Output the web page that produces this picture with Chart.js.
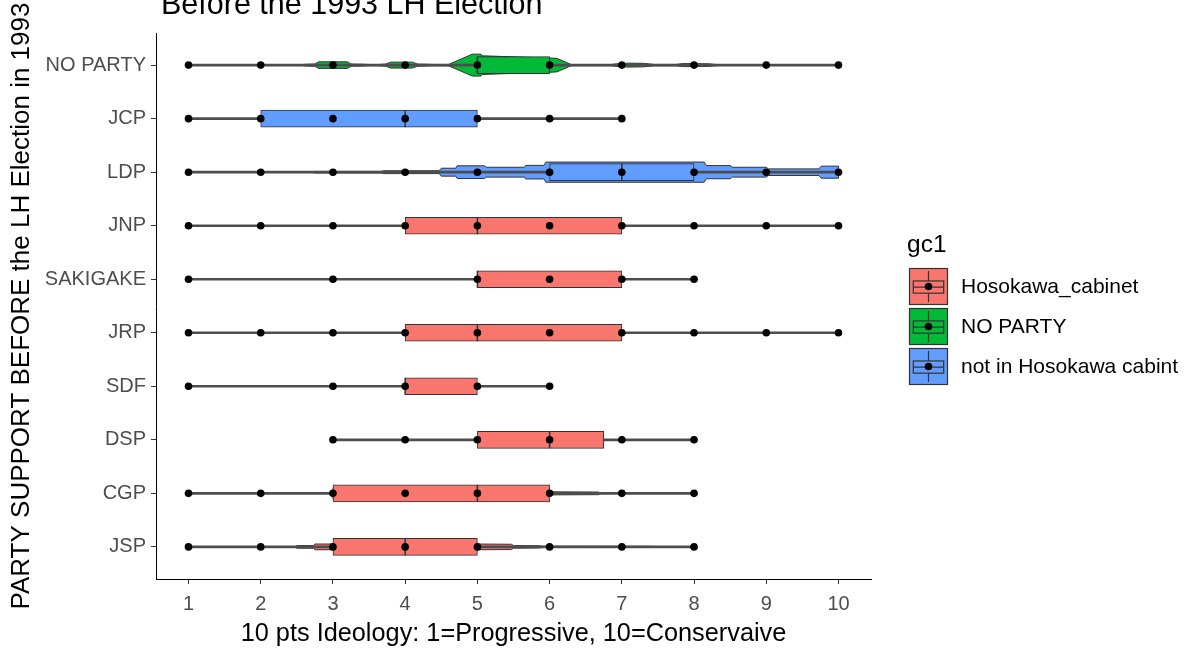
<!DOCTYPE html>
<html>
<head>
<meta charset="utf-8">
<title>Party support and ideology</title>
<script src="https://cdn.jsdelivr.net/npm/chart.js@4.4.1/dist/chart.umd.min.js"></script>
<style>
  html, body { margin: 0; padding: 0; background: #ffffff; }
  #wrap { width: 1195px; height: 650px; }
</style>
</head>
<body>
<div id="wrap"><canvas id="ideologyChart" width="1195" height="650"></canvas></div>
<script>
    // parties, listed top to bottom
    var parties = ['NO PARTY', 'JCP', 'LDP', 'JNP', 'SAKIGAKE', 'JRP', 'SDF', 'DSP', 'CGP', 'JSP'];
    var partyGroup = [1, 2, 2, 0, 0, 0, 0, 0, 0, 0];

    var groupNames = ['Hosokawa_cabinet', 'NO PARTY', 'not in Hosokawa cabint'];
    var groupColors = ['#F8766D', '#00BA38', '#619CFF'];

    var xTicks = [1, 2, 3, 4, 5, 6, 7, 8, 9, 10];

    // box stats per party
    var lowerQuartile = [5, 2, 6, 4, 5, 4, 4, 5, 3, 3];
    var medianScore   = [5, 4, 7, 5, 5, 5, 4, 6, 5, 4];
    var upperQuartile = [6, 5, 8, 7, 7, 7, 5, 6.75, 6, 5];

    // answered scores per party
    var responses = [
        [1, 2, 3, 4, 5, 6, 7, 8, 9, 10],
        [1, 2, 3, 4, 5, 6, 7],
        [1, 2, 3, 4, 5, 6, 7, 8, 9, 10],
        [1, 2, 3, 4, 5, 6, 7, 8, 9, 10],
        [1, 3, 5, 6, 7, 8],
        [1, 2, 3, 4, 5, 6, 7, 8, 9, 10],
        [1, 3, 4, 5, 6],
        [3, 4, 5, 6, 7, 8],
        [1, 2, 3, 4, 5, 6, 7, 8],
        [1, 2, 3, 4, 5, 6, 7, 8]
    ];

    // violin outlines: [score, relative density]
    var violinNoParty = [[2.55, 0], [2.62, 0.08], [2.75, 0.1], [2.8, 0.3], [3.2, 0.3], [3.25, 0.1], [3.42, 0.08],
        [3.5, 0.05], [3.62, 0.05], [3.73, 0.1], [3.8, 0.27], [4.1, 0.27], [4.17, 0.1], [4.4, 0.06], [4.6, 0.06],
        [4.93, 1.0], [5.05, 1.0], [5.06, 0.85], [6.0, 0.65], [6.1, 0.62], [6.3, 0.05], [6.85, 0.05],
        [6.9, 0.1], [7.1, 0.18], [7.3, 0.16], [7.45, 0.06], [7.75, 0.06], [7.85, 0.14], [8.2, 0.12], [8.4, 0]];
    var violinLdp = [[2.7, 0], [2.75, 0.07], [3.67, 0.07], [3.7, 0.13], [4.47, 0.13], [4.5, 0.36], [4.7, 0.36],
        [4.72, 0.58], [5.1, 0.58], [5.12, 0.45], [5.65, 0.45], [5.67, 0.62], [5.92, 0.62], [5.95, 0.92],
        [8.14, 0.92], [8.17, 0.6], [8.5, 0.6], [8.53, 0.45], [9.0, 0.45], [9.03, 0.3], [9.73, 0.3],
        [9.76, 0.55], [10.0, 0.55]];
    var violinCgp = [[3.0, 0.5], [5.98, 0.5], [6.0, 0.14], [6.68, 0.12], [6.7, 0]];
    var violinJsp = [[2.48, 0], [2.5, 0.12], [2.73, 0.12], [2.75, 0.26], [3.0, 0.26], [3.02, 0.6], [4.98, 0.6],
        [5.0, 0.26], [5.47, 0.24], [5.5, 0.12], [5.86, 0.1], [5.9, 0.06], [7.43, 0.05], [7.45, 0]];
    var violins = [violinNoParty, null, violinLdp, null, null, null, null, null, violinCgp, violinJsp];

    var FONT = "'Liberation Sans', Arial, sans-serif";
    var VIOLIN_HALF = 0.205;   // peak half width, in category units
    var OUTLINE = '#333333';

    var rangeData = parties.map(function (p, i) {
        return { y: i, x: [Math.min.apply(null, responses[i]), Math.max.apply(null, responses[i])] };
    });
    var boxData = parties.map(function (p, i) {
        return { y: i, x: [lowerQuartile[i], upperQuartile[i]] };
    });
    var boxColors = partyGroup.map(function (g) { return groupColors[g]; });
    var pointData = [];
    responses.forEach(function (list, i) {
        list.forEach(function (v) { pointData.push({ x: v, y: i }); });
    });

    function drawKey(ctx, x, y, w, h, color) {
        ctx.save();
        ctx.fillStyle = color;
        ctx.strokeStyle = OUTLINE;
        ctx.lineWidth = 1.2;
        ctx.fillRect(x, y, w, h);
        ctx.strokeRect(x + 0.5, y + 0.5, w - 1, h - 1);
        var bx = x + w * 0.11, bw = w * 0.78, by = y + h * 0.35, bh = h * 0.33;
        ctx.strokeRect(bx, by, bw, bh);
        ctx.beginPath();
        ctx.moveTo(x + w / 2, y + h * 0.08); ctx.lineTo(x + w / 2, by);
        ctx.moveTo(x + w / 2, by + bh); ctx.lineTo(x + w / 2, y + h * 0.92);
        ctx.moveTo(bx, by + bh / 2); ctx.lineTo(bx + bw, by + bh / 2);
        ctx.stroke();
        ctx.fillStyle = '#000';
        ctx.beginPath();
        ctx.arc(x + w / 2, y + h / 2, 3.8, 0, Math.PI * 2);
        ctx.fill();
        ctx.restore();
    }

    var boxplotExtras = {
        id: 'boxplotExtras',
        beforeDatasetsDraw: function (chart) {
            var ctx = chart.ctx, xs = chart.scales.x, ys = chart.scales.y;
            var unit = Math.abs(ys.getPixelForValue(1) - ys.getPixelForValue(0));
            ctx.save();
            ctx.beginPath();
            ctx.rect(chart.chartArea.left, chart.chartArea.top, chart.chartArea.width, chart.chartArea.height);
            ctx.clip();
            violins.forEach(function (shape, i) {
                if (!shape) return;
                var cy = ys.getPixelForValue(i);
                ctx.beginPath();
                shape.forEach(function (pt, k) {
                    var px = xs.getPixelForValue(pt[0]), hh = pt[1] * VIOLIN_HALF * unit;
                    if (k === 0) ctx.moveTo(px, cy - hh); else ctx.lineTo(px, cy - hh);
                });
                for (var k = shape.length - 1; k >= 0; k--) {
                    ctx.lineTo(xs.getPixelForValue(shape[k][0]), cy + shape[k][1] * VIOLIN_HALF * unit);
                }
                ctx.closePath();
                ctx.fillStyle = groupColors[partyGroup[i]];
                ctx.fill();
                ctx.strokeStyle = OUTLINE;
                ctx.lineWidth = 1;
                ctx.stroke();
            });
            ctx.restore();
        },
        afterDatasetDraw: function (chart, args) {
            if (args.index !== 1) return;
            var ctx = chart.ctx, xs = chart.scales.x;
            var bars = chart.getDatasetMeta(1).data;
            ctx.save();
            ctx.strokeStyle = OUTLINE;
            ctx.lineWidth = 1.5;
            bars.forEach(function (bar, i) {
                var mx = xs.getPixelForValue(medianScore[i]);
                ctx.beginPath();
                ctx.moveTo(mx, bar.y - bar.height / 2);
                ctx.lineTo(mx, bar.y + bar.height / 2);
                ctx.stroke();
            });
            ctx.restore();
        },
        afterDraw: function (chart) {
            var ctx = chart.ctx;
            ctx.save();
            // plot title, partly above the top edge
            ctx.fillStyle = '#000';
            ctx.font = '30.5px ' + FONT;
            ctx.textAlign = 'left';
            ctx.textBaseline = 'alphabetic';
            ctx.fillText('Before the 1993 LH Election', 161, 14);

            // legend
            ctx.font = '24.5px ' + FONT;
            ctx.fillText('gc1', 907, 252);
            ctx.font = '21px ' + FONT;
            ctx.textBaseline = 'middle';
            groupNames.forEach(function (name, g) {
                var top = 268 + g * 40;
                drawKey(ctx, 909, top, 39, 37, groupColors[g]);
                ctx.fillStyle = '#000';
                ctx.fillText(name, 961, top + 19);
            });
            ctx.restore();
        }
    };

    var ctx = document.getElementById('ideologyChart').getContext('2d');
    var ideologyChart = new Chart(ctx, {
        type: 'bar',
        data: {
            datasets: [
                {
                    type: 'bar',
                    label: 'range',
                    data: rangeData,
                    indexAxis: 'y',
                    grouped: false,
                    barThickness: 2,
                    backgroundColor: '#4d4d4d',
                    borderWidth: 0,
                    order: 3
                },
                {
                    type: 'bar',
                    label: 'box',
                    data: boxData,
                    indexAxis: 'y',
                    grouped: false,
                    barThickness: 17,
                    backgroundColor: boxColors,
                    borderColor: OUTLINE,
                    borderWidth: 1,
                    borderSkipped: false,
                    order: 2
                },
                {
                    type: 'scatter',
                    label: 'responses',
                    data: pointData,
                    pointRadius: 3.8,
                    pointBackgroundColor: '#000',
                    pointBorderWidth: 0,
                    showLine: false,
                    order: 0
                }
            ]
        },
        options: {
            indexAxis: 'y',
            responsive: false,
            animation: false,
            layout: { padding: { top: 33, right: 324, bottom: 0, left: 0 } },
            plugins: {
                legend: { display: false },
                tooltip: { enabled: false },
                title: { display: false }
            },
            scales: {
                x: {
                    type: 'linear',
                    min: 0.55,
                    max: 10.45,
                    offset: false,
                    afterBuildTicks: function (scale) {
                        scale.ticks = xTicks.map(function (v) { return { value: v }; });
                    },
                    afterFit: function (scale) { scale.height = 71; },
                    ticks: { color: '#4D4D4D', font: { family: FONT, size: 20 }, padding: 8, autoSkip: false },
                    grid: { offset: false, drawOnChartArea: false, drawTicks: true, tickLength: 5, tickColor: '#333', tickWidth: 1 },
                    border: { display: true, color: '#000', width: 1 },
                    title: {
                        display: true,
                        text: '10 pts Ideology: 1=Progressive, 10=Conservaive',
                        color: '#000',
                        font: { family: FONT, size: 25.3, lineHeight: 1.2 },
                        padding: { top: 0, bottom: 1 }
                    }
                },
                y: {
                    type: 'linear',
                    reverse: true,
                    min: -0.6,
                    max: 9.6,
                    offset: false,
                    afterBuildTicks: function (scale) {
                        scale.ticks = parties.map(function (p, i) { return { value: i }; });
                    },
                    afterFit: function (scale) { scale.width = 156; },
                    ticks: {
                        color: '#4D4D4D',
                        font: { family: FONT, size: 20 },
                        padding: 5,
                        autoSkip: false,
                        callback: function (v) { return parties[v]; }
                    },
                    grid: { offset: false, drawOnChartArea: false, drawTicks: true, tickLength: 5, tickColor: '#333', tickWidth: 1 },
                    border: { display: true, color: '#000', width: 1 },
                    title: {
                        display: true,
                        text: 'PARTY SUPPORT BEFORE the LH Election in 1993',
                        color: '#000',
                        font: { family: FONT, size: 26, lineHeight: 1.2 },
                        padding: { top: 6, bottom: 0 }
                    }
                }
            }
        },
        plugins: [boxplotExtras]
    });
</script>
</body>
</html>
